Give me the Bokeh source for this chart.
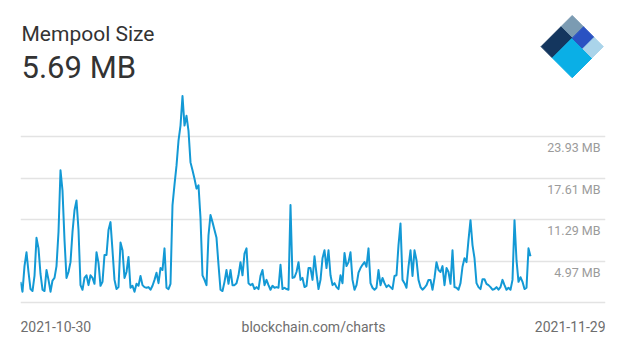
import numpy as np
import pandas as pd
from bokeh.plotting import figure
from bokeh.layouts import column
from bokeh.models import Range1d, FixedTicker, Grid, ColumnDataSource
from bokeh.core.properties import value
from bokeh.embed import file_html
from bokeh.resources import INLINE

# ---------------- data ----------------
title_text = "Mempool Size"
current_value = "5.69 MB"
start_date = "2021-10-30"
end_date = "2021-11-29"
source_text = "blockchain.com/charts"

tick_values = [-1.35, 4.97, 11.29, 17.61, 23.93]
tick_labels = ["", "4.97 MB", "11.29 MB", "17.61 MB", "23.93 MB"]

# mempool size (MB), in time order
week1 = [1.8, 0.3, 4.2, 6.3, 3.3, 0.7, 0.4, 2.7, 8.5, 6.9, 3.0, 0.6, 0.4, 3.6, 2.1, 0.3,
         2.0, 2.4, 4.2, 9.4, 18.8, 15.7, 8.2, 2.4, 3.3, 4.8, 9.4, 12.7, 14.2, 9.7, 1.3, 0.6,
         2.4, 2.8, 1.3, 2.8, 2.4, 1.5, 6.3, 4.7, 1.2, 1.8, 5.9, 5.9, 9.7, 10.9, 6.6, 2.1,
         0.7, 1.0, 7.8, 6.6, 2.4, 3.3, 5.6, 0.9, 1.2, 0.3, 1.5, 1.2, 2.7, 1.3]
week2 = [1.0, 0.9, 1.0, 0.6, 1.2, 2.1, 3.2, 1.6, 3.9, 3.6, 6.9, 0.9, 0.7, 1.5, 13.5, 16.6,
         19.5, 23.3, 25.6, 30.1, 25.6, 27.1, 24.8, 20.0, 18.8, 17.5, 16.0, 16.5, 11.5, 2.8,
         2.1, 1.3, 8.9, 12.0, 10.9, 9.7, 8.5, 4.4, 0.6, 0.4, 1.8, 3.6, 1.5, 3.6, 1.3, 1.3,
         1.6, 2.8, 4.8, 2.8, 6.1, 6.9, 1.6, 1.3, 1.5, 0.7, 1.0, 0.7, 2.7, 3.6, 1.3, 2.1, 1.3, 0.6]
week3 = [1.2, 0.9, 1.0, 0.9, 4.4, 0.7, 0.9, 0.7, 0.6, 13.5, 2.4, 2.5, 3.3, 4.8, 2.1, 2.4,
         1.0, 1.2, 3.9, 3.9, 2.1, 5.7, 3.0, 0.7, 2.1, 5.4, 6.6, 3.9, 6.6, 2.8, 1.3, 1.6,
         1.0, 0.7, 2.8, 1.6, 6.2, 4.2, 4.8, 6.3, 2.1, 0.6, 1.3, 3.2, 3.9, 4.4, 4.8, 4.1,
         6.9, 1.6, 0.9, 0.6, 0.9, 3.6, 1.3, 2.4, 1.6, 1.0, 1.3, 1.0, 0.7, 2.7, 2.8, 7.4]
week4 = [10.7, 2.1, 1.6, 0.9, 4.1, 6.6, 2.7, 6.6, 5.1, 2.1, 1.0, 0.6, 0.9, 1.3, 2.1, 2.1,
         0.6, 2.4, 4.8, 3.6, 3.3, 4.2, 1.3, 3.9, 3.3, 1.5, 6.6, 1.0, 0.9, 0.6, 1.6, 4.1,
         5.4, 4.8, 8.2, 11.2, 7.4, 5.4, 1.6, 1.0, 0.7, 2.2, 2.2, 1.5, 1.3, 1.0, 0.6, 0.7,
         1.0, 0.6, 1.0, 2.1, 1.3, 0.6, 0.9, 0.6, 2.1, 11.2, 5.1, 1.8, 2.5, 1.8, 0.7, 0.9,
         6.9, 5.69]

mempool_mb = week1 + week2 + week3 + week4
times = pd.date_range(start_date, end_date, periods=len(mempool_mb))

# ---------------- style ----------------
FONT = value("Roboto")
LINE_COLOR = "#1399d5"
GRID_COLOR = "#e3e3e3"
W = 624
LEFT, RIGHT = 20, 19          # frame borders shared by all three panels
FX0, FX1 = LEFT, W - RIGHT    # frame extent in page pixels


def panel(height):
    f = figure(width=W, height=height, title=None,
               x_range=Range1d(FX0, FX1), y_range=Range1d(height, 0),
               min_border_left=LEFT, min_border_right=RIGHT,
               min_border_top=0, min_border_bottom=0,
               toolbar_location=None, output_backend="svg",
               x_axis_location=None, y_axis_location=None, outline_line_color=None)
    for g in f.xgrid + f.ygrid:
        g.visible = False
    return f


# ---------------- header ----------------
header = panel(94)
header.text(x=[21, 21], y=[33, 67], text=[title_text, current_value], text_font=FONT,
            text_font_size=["21px", "31px"], text_color="#333333",
            text_baseline="middle", text_align="left")

# logo: rotated square split into cells (a along down-right, b along down-left)
top = np.array([571.7, 15.0])
d1 = np.array([0.7071, 0.7071])
d2 = np.array([-0.7071, 0.7071])
cells = [((0, 16), (0, 16), "#7b9bb2"),
         ((0, 16), (16, 44), "#14365e"),
         ((16, 44), (16, 44), "#0aafe6"),
         ((16, 31), (0, 16), "#2a52c2"),
         ((31, 44), (0, 16), "#aad4ea")]
lxs, lys, lcs = [], [], []
for (a0, a1), (b0, b1), c in cells:
    pts = [top + a * d1 + b * d2 for a, b in [(a0, b0), (a1, b0), (a1, b1), (a0, b1)]]
    lxs.append([pt[0] for pt in pts])
    lys.append([pt[1] for pt in pts])
    lcs.append(c)
header.patches(xs=lxs, ys=lys, fill_color=lcs, line_color=lcs, line_width=1)

# ---------------- main chart ----------------
t0 = pd.Timestamp(start_date)
t1 = pd.Timestamp(end_date)
span = t1 - t0
x_end = t0 + span * ((FX1 - FX0) / 510)

p = figure(width=W, height=210, title=None, x_axis_type="datetime",
           x_range=Range1d(t0, x_end), y_range=Range1d(-1.65, 30.34),
           min_border_left=LEFT, min_border_right=RIGHT, min_border_top=0, min_border_bottom=0,
           x_axis_location=None, y_axis_location=None, outline_line_color=None,
           toolbar_location=None, output_backend="svg")
for g in p.xgrid + p.ygrid:
    g.visible = False
p.add_layout(Grid(dimension=1, ticker=FixedTicker(ticks=tick_values),
                  grid_line_color=GRID_COLOR, grid_line_width=1.5))

src = ColumnDataSource(dict(t=times, v=mempool_mb))
p.line("t", "v", source=src, line_color=LINE_COLOR, line_width=2, line_join="round")

lab = ColumnDataSource(dict(x=[x_end] * len(tick_values), y=tick_values, text=tick_labels))
p.text("x", "y", text="text", source=lab, text_font=FONT, text_font_size="12.5px",
       text_color="#9b9b9b", text_align="right", text_baseline="middle",
       x_offset=-5, y_offset=11)

# ---------------- footer ----------------
footer = panel(47)
footer.text(x=[FX0, 313, FX1], y=[22, 22, 22], text=[start_date, source_text, end_date],
            text_font=FONT, text_font_size="14px", text_color="#6e6e6e",
            text_align=["left", "center", "right"], text_baseline="middle")

layout = column(header, p, footer, spacing=0)
open("out.html", "w").write(file_html(layout, INLINE))
